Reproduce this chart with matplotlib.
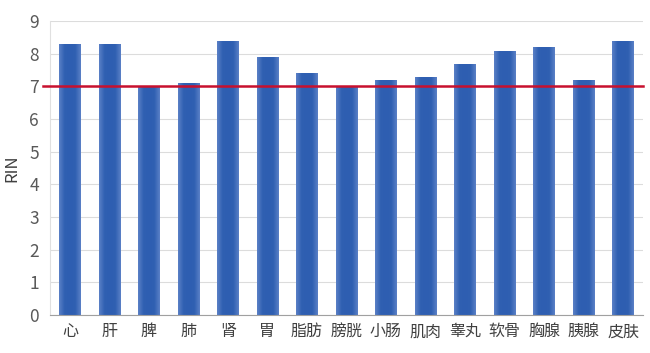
import matplotlib
matplotlib.use("Agg")
import matplotlib.pyplot as plt
import numpy as np
from matplotlib.colors import LinearSegmentedColormap

plt.rcParams['font.family'] = ['Noto Sans CJK SC', 'DejaVu Sans']

categories = ['心', '肝', '脾', '肺', '肾', '胃', '脂肪', '膀胱', '小肠', '肌肉', '睾丸', '软骨', '胸腺', '胰腺', '皮肤']
rin_values = [8.3, 8.3, 7.0, 7.1, 8.4, 7.9, 7.4, 7.0, 7.2, 7.3, 7.7, 8.1, 8.2, 7.2, 8.4]
threshold = 7.0
y_ticks = [0, 1, 2, 3, 4, 5, 6, 7, 8, 9]

fig = plt.figure(figsize=(6.5, 3.53), dpi=100)
ax = fig.add_axes([0.077, 0.108, 0.912, 0.832])

x = np.arange(len(categories))
bars = ax.bar(x, rin_values, width=0.54, color='#3563b3', zorder=2)

cmap = LinearSegmentedColormap.from_list('bg', ['#5a80c6', '#3060b2', '#2e5eb1', '#3060b2', '#5a80c6'])
grad = np.linspace(0, 1, 64).reshape(1, -1)
for b in bars:
    x0, w, h = b.get_x(), b.get_width(), b.get_height()
    im = ax.imshow(grad, cmap=cmap, aspect='auto', extent=[x0, x0 + w, 0, h], zorder=2.5)
    im.set_clip_path(b)

ax.set_xlim(-0.5, len(categories) - 0.5)
ax.set_ylim(0, 9)
ax.set_yticks(y_ticks)
ax.set_xticks(x)
ax.set_xticklabels(categories, fontsize=11.5, color='#404040')
ax.tick_params(axis='y', labelsize=12.5, colors='#595959', length=0, pad=8)
ax.tick_params(axis='x', length=0, pad=6)
ax.grid(axis='y', color='#dcdcdc', linewidth=0.8, zorder=0)
for s in ['top', 'right']:
    ax.spines[s].set_visible(False)
ax.spines['left'].set_color('#e0e0e0')
ax.spines['bottom'].set_color('#a0a0a0')

ax.axhline(threshold, xmin=-0.012, xmax=1.0, color='#c8102e', linewidth=1.8, zorder=3, clip_on=False)
ax.set_ylabel('RIN', fontsize=12, color='#404040', labelpad=6)

fig.savefig('out.png', dpi=100)
